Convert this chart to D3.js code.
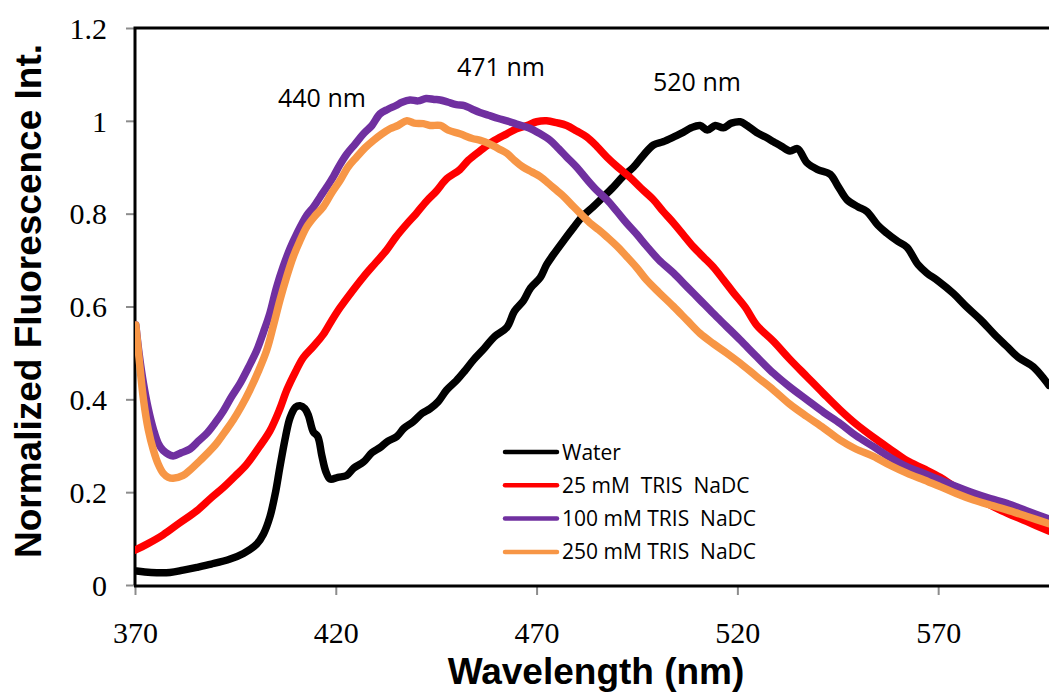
<!DOCTYPE html>
<html>
<head>
<meta charset="utf-8">
<script src="https://cdn.jsdelivr.net/npm/d3@7"></script>
<style>
  body { margin: 0; background: #fff; }
  .tickText { font-family: "Liberation Serif", serif; font-size: 30px; fill: #000; }
  .aTitle { font-family: "Liberation Sans", Arial, sans-serif; font-weight: bold; font-size: 37px; fill: #000; }
  .note { font-family: "Open Sans", sans-serif; font-size: 25px; fill: #000; }
  .legText { font-family: "Open Sans", sans-serif; font-size: 21px; fill: #000; white-space: pre; }
</style>
</head>
<body>
<div id="chart"></div>
<script>
// Emission spectra - normalized fluorescence vs wavelength

// Section 1: data [wavelength nm, normalized int.]
// ======================================================

var seriesNames = ["Water", "25 mM  TRIS  NaDC", "100 mM TRIS  NaDC", "250 mM TRIS  NaDC"];
var seriesColors = ["#000000", "#ff0000", "#7030a0", "#f79646"];

var xTicks = [370, 420, 470, 520, 570];
var yTicks = [0, 0.2, 0.4, 0.6, 0.8, 1, 1.2];

var peakLabels = ["440 nm", "471 nm", "520 nm"];
var peakNm = [440, 471, 520];

var water = [
  [370.4,0.030],[374,0.027],[378.7,0.027],[382,0.032],[385.4,0.038],[389,0.045],[393.7,0.056],[397,0.068],
  [400.3,0.088],[402,0.11],[403.6,0.147],[405,0.20],[406.1,0.255],[407.5,0.32],[408.6,0.36],[410,0.383],
  [411.1,0.386],[412.3,0.38],[413.2,0.365],[414.4,0.33],[415.5,0.32],[416.5,0.28],[417.5,0.245],[418.6,0.228],
  [420.5,0.232],[422.7,0.236],[424.5,0.252],[426.9,0.265],[429,0.285],[431,0.296],[433,0.31],[435.2,0.32],
  [437,0.338],[439.3,0.352],[441.5,0.37],[443.5,0.38],[445.5,0.395],[447.6,0.42],[450,0.44],[452,0.46],
  [454.3,0.485],[457,0.51],[459.5,0.535],[462.6,0.555],[464.5,0.59],[466.7,0.612],[468.5,0.64],[470.9,0.662],
  [472.5,0.69],[474.2,0.712],[477,0.745],[479.2,0.77],[481.5,0.795],[484.1,0.815],[486.5,0.835],[489.1,0.857],
  [491.5,0.88],[494.1,0.9],[496.5,0.925],[499.1,0.948],[501.5,0.955],[504.1,0.965],[506.5,0.975],[508.5,0.985],
  [510.7,0.99],[512.5,0.98],[514.5,0.99],[516.5,0.985],[518.5,0.995],[520.7,0.998],[522.4,0.99],[524.8,0.975],
  [527,0.965],[529,0.955],[531,0.945],[533.1,0.935],[535,0.94],[537.3,0.91],[540,0.895],[543.1,0.885],
  [545,0.86],[547.3,0.83],[550,0.815],[552.2,0.805],[555,0.775],[557.2,0.758],[560,0.74],[562.2,0.728],
  [565,0.69],[567.2,0.672],[570,0.655],[573.8,0.628],[577,0.6],[580.5,0.572],[584,0.54],[587.1,0.514],
  [590,0.49],[593.7,0.47],[597.6,0.43]
];

var tris25 = [
  [370,0.075],[373,0.088],[377,0.108],[381,0.133],[385.4,0.16],[389,0.188],[392,0.21],[395,0.235],
  [397.8,0.26],[401,0.298],[403.6,0.332],[406,0.378],[407.8,0.42],[410,0.46],[411.9,0.49],[414.5,0.515],
  [416.9,0.54],[419,0.57],[421.1,0.598],[424,0.632],[426.9,0.664],[430,0.695],[432.7,0.722],[435,0.75],
  [437.7,0.778],[440,0.8],[442.7,0.828],[445,0.848],[447.6,0.875],[450.9,0.895],[453,0.915],[455.9,0.935],
  [459,0.955],[462.6,0.972],[465,0.983],[467.6,0.99],[470,0.998],[472.5,1.0],[475,0.996],[477.5,0.99],
  [480,0.978],[482.5,0.965],[485,0.945],[487.5,0.922],[490,0.902],[493.3,0.878],[496,0.855],[499.1,0.83],
  [501.5,0.805],[504.1,0.78],[506.5,0.755],[509,0.729],[511.5,0.707],[514,0.685],[516.5,0.658],[519,0.63],
  [522,0.598],[524.8,0.56],[529,0.525],[533,0.487],[537.3,0.449],[541.5,0.412],[545.6,0.377],[549.5,0.347],
  [553.9,0.318],[558,0.293],[562.2,0.268],[566.5,0.25],[570.5,0.232],[574.5,0.21],[578.8,0.19],[583,0.172],
  [587.1,0.155],[592,0.137],[597.6,0.116]
];

var tris100 = [
  [370.2,0.56],[371,0.5],[372.1,0.435],[373.3,0.38],[374.6,0.335],[375.8,0.305],[377,0.29],[379.5,0.278],
  [381.5,0.285],[383.7,0.293],[385.8,0.31],[387.9,0.327],[390,0.35],[392,0.375],[394,0.405],[396.2,0.435],
  [398.2,0.468],[400.3,0.505],[402,0.545],[403.6,0.586],[405.2,0.64],[406.9,0.686],[408.6,0.725],[410.3,0.757],
  [412.8,0.797],[414.5,0.815],[416.1,0.836],[417.8,0.858],[419.4,0.88],[421,0.905],[422.7,0.928],[424.8,0.95],
  [426.9,0.972],[429,0.99],[431,1.015],[433,1.025],[435,1.033],[436.5,1.04],[438.5,1.045],[440.5,1.043],
  [442.5,1.048],[444.5,1.046],[446,1.045],[448,1.04],[450,1.035],[452,1.033],[454,1.025],[455.9,1.018],
  [458,1.012],[460.5,1.005],[462.6,1.0],[465,0.993],[468,0.985],[470.9,0.972],[473.4,0.958],[475.5,0.94],
  [477.5,0.922],[480,0.9],[482.5,0.874],[485,0.85],[487.5,0.83],[490,0.805],[492.4,0.78],[495,0.755],
  [497.4,0.73],[500.5,0.7],[504.1,0.672],[507.5,0.642],[510.7,0.614],[514,0.585],[517.3,0.557],[520.7,0.528],
  [524.8,0.492],[529,0.456],[533,0.427],[537.3,0.399],[541.5,0.372],[545.6,0.348],[549.5,0.322],[553.9,0.298],
  [558,0.275],[562.2,0.255],[566.5,0.24],[570.5,0.226],[574.5,0.212],[578.8,0.198],[583,0.186],[587.1,0.176],
  [592,0.16],[597.6,0.142]
];

var tris250 = [
  [370.2,0.56],[371,0.49],[372.1,0.4],[373.3,0.335],[374.6,0.29],[375.8,0.26],[377,0.241],[378.3,0.232],
  [379.5,0.23],[382,0.236],[384,0.25],[386.2,0.268],[388.2,0.285],[390.3,0.305],[392.4,0.33],[394.5,0.356],
  [396.5,0.385],[398.6,0.42],[400.7,0.46],[402.8,0.506],[404.5,0.56],[406.1,0.614],[407.8,0.665],[409.4,0.707],
  [411,0.74],[412.8,0.772],[414.8,0.795],[416.9,0.815],[419,0.845],[421.1,0.872],[423,0.9],[425.2,0.922],
  [427.3,0.942],[429.4,0.958],[431.5,0.972],[433.5,0.983],[435.5,0.99],[437.7,1.0],[439.5,0.995],[441.8,0.994],
  [443.5,0.99],[446,0.99],[448,0.98],[450.9,0.972],[454,0.962],[456,0.958],[458.4,0.95],[460.5,0.94],
  [462.6,0.93],[464.5,0.915],[466.7,0.9],[468.8,0.89],[470.9,0.88],[473,0.865],[475,0.85],[477,0.835],
  [479.2,0.815],[481.3,0.797],[483.3,0.78],[485.5,0.765],[487.5,0.75],[490,0.73],[492.4,0.708],[495,0.683],
  [497.4,0.657],[500.5,0.63],[504.1,0.6],[507.5,0.57],[510.7,0.542],[514,0.52],[517.3,0.5],[520.7,0.478],
  [524.8,0.449],[529,0.42],[533,0.39],[537.3,0.363],[541.5,0.338],[545.6,0.312],[549.5,0.293],[553.9,0.277],
  [558,0.258],[562.2,0.241],[566.5,0.226],[570.5,0.212],[574.5,0.197],[578.8,0.183],[583,0.172],[587.1,0.162],
  [592,0.148],[597.6,0.132]
];

var allSeries = [water, tris25, tris100, tris250];

// Section 2: canvas, scales
// ======================================================

var width = 1049;
var height = 693;
var plotLeft = 135;
var plotRight = 1049;
var plotTop = 28;
var plotBottom = 585;

var svg = d3.select("#chart")
  .append("svg")
  .attr("width", width)
  .attr("height", height);

var xScale = d3.scaleLinear()
  .domain([370, 597.6])
  .range([plotLeft, plotRight]);

var yScale = d3.scaleLinear()
  .domain([0, 1.2])
  .range([plotBottom, plotTop]);

svg.append("clipPath")
  .attr("id", "plotClip")
  .append("rect")
  .attr("x", plotLeft)
  .attr("y", plotTop - 10)
  .attr("width", plotRight - plotLeft)
  .attr("height", plotBottom - plotTop + 10);

// Section 3: axes
// ======================================================

var yAxis = d3.axisLeft(yScale).tickValues(yTicks).tickSize(9).tickFormat(d3.format("~g"));
var xAxis = d3.axisBottom(xScale).tickValues(xTicks).tickSize(10).tickFormat(d3.format("d"));

var gy = svg.append("g")
  .attr("transform", "translate(" + plotLeft + ",0)")
  .call(yAxis);
gy.select(".domain").remove();
gy.selectAll(".tick line").attr("stroke", "#8c8c8c").attr("stroke-width", 2);
gy.selectAll(".tick text")
  .attr("class", "tickText")
  .attr("x", -28)
  .attr("dy", "0.34em");

var gx = svg.append("g")
  .attr("transform", "translate(0," + plotBottom + ")")
  .call(xAxis);
gx.select(".domain").remove();
gx.selectAll(".tick line").attr("stroke", "#8c8c8c").attr("stroke-width", 2);
gx.selectAll(".tick text")
  .attr("class", "tickText")
  .attr("y", 58)
  .attr("dy", 0);

svg.selectAll("g").attr("font-family", null).attr("font-size", null);

// frame: left, top, bottom
svg.append("path")
  .attr("d", "M" + plotLeft + "," + plotBottom + "V" + plotTop + "H" + plotRight)
  .attr("fill", "none")
  .attr("stroke", "#000")
  .attr("stroke-width", 3);
svg.append("line")
  .attr("x1", plotLeft - 1).attr("x2", plotRight)
  .attr("y1", plotBottom + 1).attr("y2", plotBottom + 1)
  .attr("stroke", "#000")
  .attr("stroke-width", 3);

// Section 4: lines
// ======================================================

var line = d3.line()
  .x(function(d) { return xScale(d[0]); })
  .y(function(d) { return yScale(d[1]); })
  .curve(d3.curveCatmullRom);

svg.append("g")
  .attr("clip-path", "url(#plotClip)")
  .selectAll("path")
  .data(allSeries)
  .enter()
  .append("path")
  .attr("d", line)
  .attr("fill", "none")
  .attr("stroke", function(d, i) { return seriesColors[i]; })
  .attr("stroke-width", 7.5)
  .attr("stroke-linejoin", "round")
  .attr("stroke-linecap", "round");

// Section 5: peak labels
// ======================================================

var noteX = [278, 457, 653];
var noteY = [107, 76, 91];
svg.selectAll(".note")
  .data(peakLabels)
  .enter()
  .append("text")
  .attr("class", "note")
  .attr("x", function(d, i) { return noteX[i]; })
  .attr("y", function(d, i) { return noteY[i]; })
  .text(function(d) { return d; });

// Section 6: legend
// ======================================================

var legend = svg.append("g").attr("transform", "translate(505,452)");
seriesNames.forEach(function(name, i) {
  legend.append("line")
    .attr("x1", 0).attr("x2", 52)
    .attr("y1", i * 33.3).attr("y2", i * 33.3)
    .attr("stroke", seriesColors[i])
    .attr("stroke-width", 4.5)
    .attr("stroke-linecap", "round");
  legend.append("text")
    .attr("class", "legText")
    .attr("x", 57)
    .attr("y", i * 33.3 + 7.5)
    .text(name);
});

// Section 7: axis titles
// ======================================================

svg.append("text")
  .attr("class", "aTitle")
  .attr("text-anchor", "middle")
  .attr("x", 596)
  .attr("y", 684)
  .text("Wavelength (nm)");

svg.append("text")
  .attr("class", "aTitle")
  .attr("text-anchor", "middle")
  .attr("transform", "translate(41," + 301 + ")rotate(-90)")
  .text("Normalized Fluorescence Int.");
</script>
</body>
</html>
